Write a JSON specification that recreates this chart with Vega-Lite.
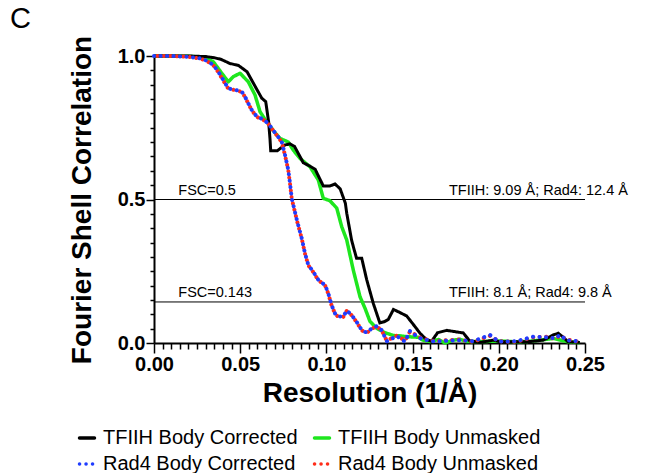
{
  "$schema": "https://vega.github.io/schema/vega-lite/v6.json",
  "width": 431,
  "height": 287,
  "autosize": {"type": "none"},
  "padding": {"left": 154, "top": 56, "right": 71, "bottom": 130},
  "background": "white",
  "title": {"text": "C", "anchor": "start", "frame": "group", "font": "Liberation Sans", "fontSize": 29, "fontWeight": "normal", "color": "black", "dx": -144, "offset": 1},
  "datasets": {
    "tc": [
      {"x":0,"y":1},{"x":0.01,"y":1},{"x":0.02,"y":1},{"x":0.03,"y":0.998},{"x":0.035,"y":0.994},{"x":0.039,"y":0.988},{"x":0.044,"y":0.974},{"x":0.049,"y":0.967},{"x":0.054,"y":0.945},{"x":0.0586,"y":0.895},{"x":0.0625,"y":0.853},{"x":0.0648,"y":0.841},{"x":0.0665,"y":0.77},{"x":0.0673,"y":0.71},{"x":0.0677,"y":0.67},{"x":0.0715,"y":0.67},{"x":0.076,"y":0.69},{"x":0.0789,"y":0.694},{"x":0.0815,"y":0.685},{"x":0.0866,"y":0.628},{"x":0.0905,"y":0.616},{"x":0.0935,"y":0.605},{"x":0.0982,"y":0.547},{"x":0.102,"y":0.547},{"x":0.105,"y":0.554},{"x":0.108,"y":0.537},{"x":0.111,"y":0.487},{"x":0.1118,"y":0.452},{"x":0.1146,"y":0.359},{"x":0.1156,"y":0.336},{"x":0.1175,"y":0.295},{"x":0.1205,"y":0.295},{"x":0.1234,"y":0.22},{"x":0.1272,"y":0.138},{"x":0.131,"y":0.07},{"x":0.1335,"y":0.074},{"x":0.1359,"y":0.082},{"x":0.1389,"y":0.117},{"x":0.1427,"y":0.106},{"x":0.1466,"y":0.094},{"x":0.1514,"y":0.057},{"x":0.1543,"y":0.034},{"x":0.158,"y":0.012},{"x":0.161,"y":0.006},{"x":0.1645,"y":0.036},{"x":0.1698,"y":0.044},{"x":0.1794,"y":0.035},{"x":0.183,"y":0.008},{"x":0.189,"y":0.002},{"x":0.197,"y":0.01},{"x":0.2007,"y":0.004},{"x":0.21,"y":0.004},{"x":0.218,"y":0.005},{"x":0.2258,"y":0.01},{"x":0.2316,"y":0.028},{"x":0.2345,"y":0.034},{"x":0.2374,"y":0.02},{"x":0.24,"y":0.005},{"x":0.247,"y":0.002}
    ],
    "tu": [
      {"x":0,"y":1},{"x":0.01,"y":1},{"x":0.02,"y":0.999},{"x":0.0286,"y":0.996},{"x":0.0344,"y":0.98},{"x":0.0393,"y":0.94},{"x":0.0431,"y":0.91},{"x":0.046,"y":0.928},{"x":0.0499,"y":0.94},{"x":0.0547,"y":0.91},{"x":0.0586,"y":0.864},{"x":0.0615,"y":0.806},{"x":0.0644,"y":0.779},{"x":0.0692,"y":0.74},{"x":0.0731,"y":0.713},{"x":0.0779,"y":0.7},{"x":0.0808,"y":0.672},{"x":0.0847,"y":0.643},{"x":0.0905,"y":0.614},{"x":0.0953,"y":0.568},{"x":0.0982,"y":0.504},{"x":0.102,"y":0.496},{"x":0.106,"y":0.47},{"x":0.1089,"y":0.405},{"x":0.1118,"y":0.359},{"x":0.1156,"y":0.254},{"x":0.1195,"y":0.161},{"x":0.1224,"y":0.121},{"x":0.1253,"y":0.075},{"x":0.1292,"y":0.051},{"x":0.134,"y":0.036},{"x":0.1389,"y":0.026},{"x":0.1427,"y":0.025},{"x":0.1466,"y":0.022},{"x":0.1504,"y":0.021},{"x":0.1533,"y":0.02},{"x":0.156,"y":0.01},{"x":0.16,"y":0.005},{"x":0.165,"y":0.012},{"x":0.1688,"y":0},{"x":0.1736,"y":0.01},{"x":0.1775,"y":0.013},{"x":0.1814,"y":0.005},{"x":0.19,"y":0.005},{"x":0.2007,"y":0.007},{"x":0.21,"y":0.004},{"x":0.218,"y":0.006},{"x":0.224,"y":0.01},{"x":0.2316,"y":0.016},{"x":0.2394,"y":0.005},{"x":0.247,"y":0.001}
    ],
    "rc": [
      {"x":0,"y":1},{"x":0.01,"y":1},{"x":0.02,"y":0.997},{"x":0.0267,"y":0.992},{"x":0.0305,"y":0.984},{"x":0.0344,"y":0.969},{"x":0.0373,"y":0.945},{"x":0.0402,"y":0.916},{"x":0.0431,"y":0.887},{"x":0.047,"y":0.882},{"x":0.0509,"y":0.876},{"x":0.0528,"y":0.858},{"x":0.0547,"y":0.835},{"x":0.0567,"y":0.812},{"x":0.0596,"y":0.789},{"x":0.0634,"y":0.779},{"x":0.0663,"y":0.765},{"x":0.0683,"y":0.748},{"x":0.0712,"y":0.725},{"x":0.0741,"y":0.701},{"x":0.076,"y":0.655},{"x":0.0779,"y":0.603},{"x":0.0789,"y":0.556},{"x":0.0799,"y":0.504},{"x":0.0831,"y":0.423},{"x":0.0857,"y":0.365},{"x":0.0876,"y":0.312},{"x":0.0895,"y":0.272},{"x":0.0924,"y":0.248},{"x":0.0953,"y":0.22},{"x":0.0992,"y":0.202},{"x":0.1011,"y":0.173},{"x":0.103,"y":0.132},{"x":0.105,"y":0.103},{"x":0.1069,"y":0.092},{"x":0.1098,"y":0.092},{"x":0.1118,"y":0.113},{"x":0.1146,"y":0.098},{"x":0.1175,"y":0.074},{"x":0.1205,"y":0.045},{"x":0.1234,"y":0.036},{"x":0.1263,"y":0.051},{"x":0.1292,"y":0.059},{"x":0.1321,"y":0.045},{"x":0.135,"y":0.006},{"x":0.1408,"y":0.024},{"x":0.1456,"y":0.005},{"x":0.1485,"y":0.042},{"x":0.1514,"y":0.028},{"x":0.1553,"y":0.014},{"x":0.163,"y":0.005},{"x":0.17,"y":0.008},{"x":0.1775,"y":0.01},{"x":0.185,"y":0.006},{"x":0.1949,"y":0.028},{"x":0.2,"y":0.005},{"x":0.21,"y":0.006},{"x":0.22,"y":0.022},{"x":0.2277,"y":0.02},{"x":0.2326,"y":0.016},{"x":0.2355,"y":0.028},{"x":0.2394,"y":0.01},{"x":0.247,"y":0.005}
    ],
    "ru": [
      {"x":0,"y":1},{"x":0.01,"y":1},{"x":0.02,"y":0.997},{"x":0.0267,"y":0.991},{"x":0.0305,"y":0.983},{"x":0.0344,"y":0.968},{"x":0.0373,"y":0.944},{"x":0.0402,"y":0.914},{"x":0.0431,"y":0.886},{"x":0.047,"y":0.881},{"x":0.0509,"y":0.875},{"x":0.0528,"y":0.857},{"x":0.0547,"y":0.834},{"x":0.0567,"y":0.811},{"x":0.0596,"y":0.788},{"x":0.0634,"y":0.778},{"x":0.0663,"y":0.764},{"x":0.0683,"y":0.747},{"x":0.0712,"y":0.724},{"x":0.0741,"y":0.7},{"x":0.076,"y":0.654},{"x":0.0779,"y":0.602},{"x":0.0789,"y":0.555},{"x":0.0799,"y":0.503},{"x":0.0831,"y":0.422},{"x":0.0857,"y":0.364},{"x":0.0876,"y":0.311},{"x":0.0895,"y":0.271},{"x":0.0924,"y":0.247},{"x":0.0953,"y":0.219},{"x":0.0992,"y":0.201},{"x":0.1011,"y":0.172},{"x":0.103,"y":0.131},{"x":0.105,"y":0.102},{"x":0.1069,"y":0.091},{"x":0.1098,"y":0.091},{"x":0.1118,"y":0.112},{"x":0.1146,"y":0.097},{"x":0.1175,"y":0.073},{"x":0.1205,"y":0.044},{"x":0.1234,"y":0.035},{"x":0.1263,"y":0.05},{"x":0.1292,"y":0.058},{"x":0.1321,"y":0.044},{"x":0.135,"y":0.008},{"x":0.1408,"y":0.026},{"x":0.1456,"y":0.008},{"x":0.1485,"y":0.04},{"x":0.1514,"y":0.03},{"x":0.1553,"y":0.016},{"x":0.163,"y":0.006},{"x":0.17,"y":0.01},{"x":0.1775,"y":0.012},{"x":0.185,"y":0.004},{"x":0.1949,"y":0.025},{"x":0.2,"y":0.006},{"x":0.21,"y":0.004},{"x":0.22,"y":0.02},{"x":0.2277,"y":0.022},{"x":0.2326,"y":0.014},{"x":0.2355,"y":0.026},{"x":0.2394,"y":0.012},{"x":0.247,"y":0.004}
    ],
    "thr": [
      {"fsc": 0.5, "label": "FSC=0.5", "res": "TFIIH: 9.09 Å; Rad4: 12.4 Å"},
      {"fsc": 0.143, "label": "FSC=0.143", "res": "TFIIH: 8.1 Å; Rad4: 9.8 Å"}
    ]
  },
  "encoding": {
    "x": {
      "type": "quantitative",
      "scale": {"domain": [0, 0.25], "nice": false, "zero": false},
      "axis": {
        "values": [0,0.005,0.01,0.015,0.02,0.025,0.03,0.035,0.04,0.045,0.05,0.055,0.06,0.065,0.07,0.075,0.08,0.085,0.09,0.095,0.1,0.105,0.11,0.115,0.12,0.125,0.13,0.135,0.14,0.145,0.15,0.155,0.16,0.165,0.17,0.175,0.18,0.185,0.19,0.195,0.2,0.205,0.21,0.215,0.22,0.225,0.23,0.235,0.24,0.245,0.25],
        "tickSize": {"condition": {"test": "abs(datum.value*20-round(datum.value*20))<0.0001", "value": 10}, "value": 6},
        "labelExpr": "abs(datum.value*20-round(datum.value*20))<0.0001 ? format(datum.value,'.2f') : ''",
        "labelOverlap": false, "labelBound": false, "labelFlush": false,
        "labelAngle": 0,
        "labelFont": "Liberation Sans", "labelFontSize": 20, "labelFontWeight": "bold", "labelColor": "black", "labelPadding": 1,
        "domainColor": "black", "domainWidth": 2, "tickColor": "black", "tickWidth": 1.5, "grid": false,
        "title": "Resolution (1/Å)", "titleFont": "Liberation Sans", "titleFontSize": 28, "titleFontWeight": "bold", "titleColor": "black", "titlePadding": 5
      }
    },
    "y": {
      "type": "quantitative",
      "scale": {"domain": [0, 1], "nice": false},
      "axis": {
        "values": [0,0.05,0.1,0.15,0.2,0.25,0.3,0.35,0.4,0.45,0.5,0.55,0.6,0.65,0.7,0.75,0.8,0.85,0.9,0.95,1],
        "tickSize": {"condition": {"test": "abs(datum.value*2-round(datum.value*2))<0.0001", "value": 8}, "value": 4},
        "labelExpr": "abs(datum.value*2-round(datum.value*2))<0.0001 ? format(datum.value,'.1f') : ''",
        "labelOverlap": false, "labelBound": false, "labelFlush": false,
        "labelFont": "Liberation Sans", "labelFontSize": 20, "labelFontWeight": "bold", "labelColor": "black", "labelPadding": 1,
        "domainColor": "black", "domainWidth": 2, "tickColor": "black", "tickWidth": 1.5, "grid": false,
        "title": "Fourier Shell Correlation", "titleFont": "Liberation Sans", "titleFontSize": 28, "titleFontWeight": "bold", "titleColor": "black", "titlePadding": 21
      }
    }
  },
  "layer": [
    {
      "data": {"name": "thr"},
      "mark": {"type": "rule", "color": "black", "strokeWidth": 1},
      "encoding": {"y": {"field": "fsc", "type": "quantitative"}, "x": {"datum": 0}, "x2": {"datum": 0.25}}
    },
    {
      "data": {"name": "thr"},
      "mark": {"type": "text", "align": "left", "baseline": "alphabetic", "dy": -5, "font": "Liberation Sans", "fontSize": 14.5, "color": "black"},
      "encoding": {"y": {"field": "fsc", "type": "quantitative"}, "x": {"datum": 0.0141}, "text": {"field": "label"}}
    },
    {
      "data": {"name": "thr"},
      "mark": {"type": "text", "align": "left", "baseline": "alphabetic", "dy": -5, "font": "Liberation Sans", "fontSize": 14.5, "color": "black"},
      "encoding": {"y": {"field": "fsc", "type": "quantitative"}, "x": {"datum": 0.1711}, "text": {"field": "res"}}
    },
    {
      "data": {"name": "tu"},
      "mark": {"type": "line", "strokeWidth": 3.5, "strokeJoin": "round"},
      "encoding": {
        "x": {"field": "x", "type": "quantitative"},
        "y": {"field": "y", "type": "quantitative"},
        "color": {"datum": "TFIIH Body Unmasked"},
        "strokeDash": {"datum": "TFIIH Body Unmasked"}
      }
    },
    {
      "data": {"name": "tc"},
      "mark": {"type": "line", "strokeWidth": 3, "strokeJoin": "miter"},
      "encoding": {
        "x": {"field": "x", "type": "quantitative"},
        "y": {"field": "y", "type": "quantitative"},
        "color": {"datum": "TFIIH Body Corrected"},
        "strokeDash": {"datum": "TFIIH Body Corrected"}
      }
    },
    {
      "data": {"name": "ru"},
      "mark": {"type": "line", "strokeWidth": 4, "strokeCap": "round", "strokeDashOffset": 3.2},
      "encoding": {
        "x": {"field": "x", "type": "quantitative"},
        "y": {"field": "y", "type": "quantitative"},
        "color": {"datum": "Rad4 Body Unmasked"},
        "strokeDash": {"datum": "Rad4 Body Unmasked"}
      }
    },
    {
      "data": {"name": "rc"},
      "mark": {"type": "line", "strokeWidth": 4, "strokeCap": "round"},
      "encoding": {
        "x": {"field": "x", "type": "quantitative"},
        "y": {"field": "y", "type": "quantitative"},
        "color": {
          "datum": "Rad4 Body Corrected",
          "scale": {"domain": ["TFIIH Body Corrected", "Rad4 Body Corrected", "TFIIH Body Unmasked", "Rad4 Body Unmasked"], "range": ["#000000", "#1f3cff", "#1ee61e", "#ff2d1a"]},
          "legend": {
            "title": null, "orient": "none", "legendX": -77, "legendY": 372, "columns": 2, "columnPadding": 9, "rowPadding": 6,
            "labelFont": "Liberation Sans", "labelFontSize": 20, "labelColor": "black", "labelOffset": 6, "labelLimit": 400,
            "symbolType": "stroke", "symbolSize": 225, "symbolStrokeWidth": 3.5,
            "encode": {"symbols": {"update": {"strokeCap": {"value": "round"}}}}
          }
        },
        "strokeDash": {
          "datum": "Rad4 Body Corrected",
          "scale": {"domain": ["TFIIH Body Corrected", "Rad4 Body Corrected", "TFIIH Body Unmasked", "Rad4 Body Unmasked"], "range": [[1, 0], [0.1, 6.4], [1, 0], [0.1, 6.4]]},
          "legend": {
            "title": null, "orient": "none", "legendX": -77, "legendY": 372, "columns": 2, "columnPadding": 9, "rowPadding": 6,
            "labelFont": "Liberation Sans", "labelFontSize": 20, "labelColor": "black", "labelOffset": 6, "labelLimit": 400,
            "symbolType": "stroke", "symbolSize": 225, "symbolStrokeWidth": 3.5,
            "encode": {"symbols": {"update": {"strokeCap": {"value": "round"}}}}
          }
        }
      }
    }
  ],
  "config": {"view": {"stroke": null}, "font": "Liberation Sans"}
}
